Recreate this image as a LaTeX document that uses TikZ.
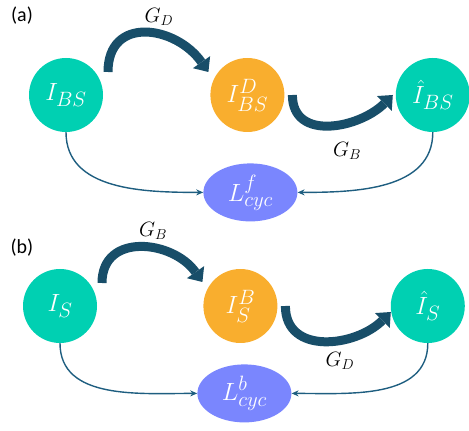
\documentclass[tikz,border=0pt]{standalone}
\usepackage{amsmath}
\usepackage{fontspec}
\newfontfamily\panelfont{Carlito}
\usetikzlibrary{arrows.meta,positioning,shapes.geometric}
\definecolor{tealnode}{RGB}{0,208,178}
\definecolor{orangenode}{RGB}{249,174,46}
\definecolor{lossnode}{RGB}{122,134,254}
\definecolor{gencolor}{RGB}{24,78,105}
\definecolor{cycline}{RGB}{30,94,128}

\begin{document}
\begin{tikzpicture}[
  x=1pt, y=1pt,
  img/.style={circle, fill=tealnode, text=white, minimum size=74pt, inner sep=0pt, font=\fontsize{28}{30}\selectfont},
  fake/.style={img, fill=orangenode},
  loss/.style={ellipse, fill=lossnode, text=white, minimum width=94pt, minimum height=58pt, inner sep=0pt, font=\fontsize{28}{30}\selectfont},
  genflow/.style={line width=9pt, draw=gencolor, -{Triangle[length=12pt, width=21pt, line width=0pt]}},
  cyc/.style={draw=cycline, line width=1.4pt, -{Stealth[length=7pt, width=6pt]}},
  glabel/.style={font=\fontsize{22}{24}\selectfont},
  panel/.style={font=\panelfont\fontsize{20}{24}\selectfont}
]
\useasboundingbox (0,0) rectangle (469,431);

% (a) forward cycle
\node[panel] (pa) at (22,415) {(a)};
\node[img] (ibs) at (66,336) {$I_{BS}$};
\node[fake, right=107pt of ibs] (ibsd) {$I_{BS}^{D}$};
\node[img, right=111pt of ibsd] (ibshat) {$\hat{I}_{BS}$};
\node[loss, below=31pt of ibsd, xshift=3pt] (lf) {$L_{cyc}^{f}$};
\node[glabel] (gda) at (159,414) {$G_D$};
\node[glabel] (gba) at (347,280) {$G_B$};
\draw[genflow] ([shift={(42pt,23pt)}]ibs.center) to[out=90, in=125, looseness=1.45] ([shift={(-39pt,23pt)}]ibsd.center);
\draw[genflow] ([shift={(45pt,0pt)}]ibsd.center) to[out=-90, in=-135, looseness=1.2] ([shift={(-40pt,0pt)}]ibshat.center);
\draw[cyc] (ibs.south) to[out=-90, in=180] (lf.west);
\draw[cyc] (ibshat.south) to[out=-90, in=0] (lf.east);

% (b) backward cycle
\node[panel] (pb) at (22,183) {(b)};
\node[img] (is) at (60,125) {$I_{S}$};
\node[fake, right=106pt of is] (isb) {$I_{S}^{B}$};
\node[img, right=113pt of isb] (ishat) {$\hat{I}_{S}$};
\node[loss, below=21pt of isb, xshift=4pt] (lb) {$L_{cyc}^{b}$};
\node[glabel] (gbb) at (153,200) {$G_B$};
\node[glabel] (gdb) at (340,70) {$G_D$};
\draw[genflow] ([shift={(42pt,23pt)}]is.center) to[out=90, in=125, looseness=1.3] ([shift={(-38pt,24pt)}]isb.center);
\draw[genflow] ([shift={(45pt,0pt)}]isb.center) to[out=-90, in=-135, looseness=1.2] ([shift={(-37pt,-6pt)}]ishat.center);
\draw[cyc] (is.south) to[out=-90, in=180] (lb.west);
\draw[cyc] (ishat.south) to[out=-90, in=0] (lb.east);
\end{tikzpicture}
\end{document}
